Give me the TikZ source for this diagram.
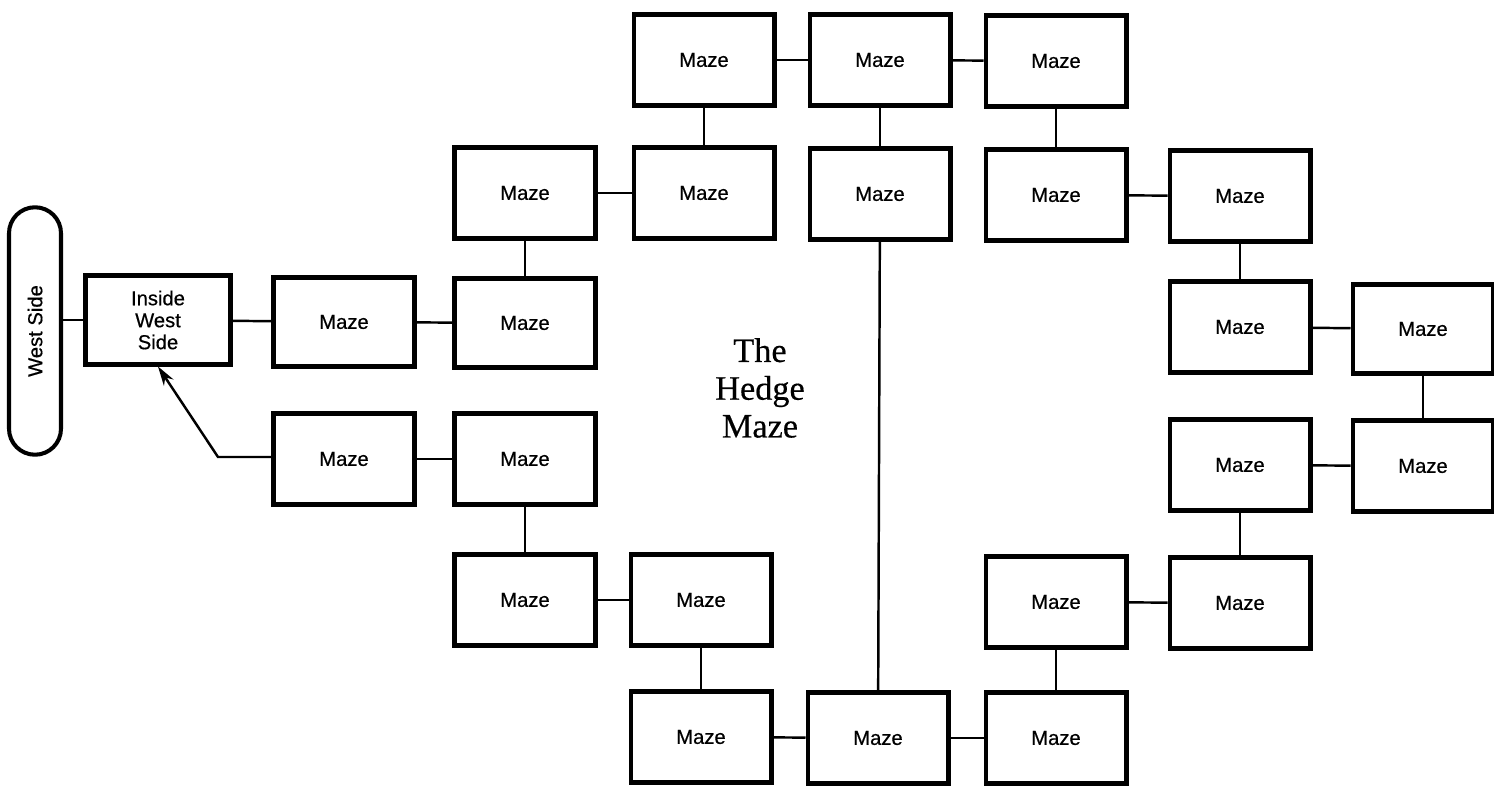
\documentclass[tikz,border=0pt]{standalone}
\usepackage{fontspec}
\setsansfont{Liberation Sans}
\newfontfamily\roomfont{Liberation Sans}[FakeBold=0.5]
\newfontfamily\titlefont{Liberation Serif}[FakeBold=0.4]
\usepackage{tikz}
\usetikzlibrary{positioning,arrows.meta,calc}

\begin{document}
\begin{tikzpicture}[
  x=0.02cm, y=-0.02cm,
  room/.style={rectangle, draw=black, fill=white, line width=2.3pt,
    minimum width=2.82cm, minimum height=1.82cm, align=center,
    font=\roomfont\fontsize{11.5}{12.5}\selectfont},
  exit/.style={rectangle, rounded corners=0.52cm, draw=black, line width=2.3pt,
    minimum width=1.04cm, minimum height=4.95cm,
    font=\roomfont\fontsize{11.5}{12.5}\selectfont},
  link/.style={line width=1.4pt, color=black},
  arrow/.style={-{Stealth[length=11pt, width=6.5pt]}, line width=1.4pt},
  title/.style={font=\titlefont\fontsize{19.5}{21.5}\selectfont, align=center}
]
\useasboundingbox (0,0) rectangle (1494,787);

% Row 1: top
\node[room] (t1) at (704,60) {Maze};
\node[room] (t2) at (880,60) {Maze};
\node[room] (t3) at (1056,61) {Maze};

% Row 2
\node[room] (a) at (525,193) {Maze};
\node[room] (b) at (704,193) {Maze};
\node[room] (c) at (880,194) {Maze};
\node[room] (d) at (1056,195) {Maze};
\node[room] (e) at (1240,196) {Maze};

% Row 3: entrance
\node[exit] (west) at (35,331) {\rotatebox{90}{West Side}};
\node[room, minimum width=2.9cm, minimum height=1.78cm] (inside) at (158,320) {Inside\\West\\Side};
\node[room, minimum height=1.78cm] (f) at (344,322) {Maze};
\node[room, minimum height=1.78cm] (g) at (525,323) {Maze};
\node[room] (h) at (1240,327) {Maze};
\node[room, minimum height=1.78cm] (i) at (1423,329) {Maze};

% Centre label
\node[title] (hedge) at (760,388) {The\\Hedge\\Maze};

% Row 4
\node[room] (j) at (344,459) {Maze};
\node[room] (k) at (525,459) {Maze};
\node[room] (l) at (1240,465) {Maze};
\node[room] (m) at (1423,466) {Maze};

% Row 5
\node[room] (n) at (525,600) {Maze};
\node[room] (o) at (701,600) {Maze};
\node[room] (p) at (1056,602) {Maze};
\node[room] (q) at (1240,603) {Maze};

% Row 6: bottom
\node[room] (r) at (701,737) {Maze};
\node[room] (s) at (878,738) {Maze};
\node[room] (t) at (1056,738) {Maze};

% Paths
\draw[link] (inside.west) -- (inside.west -| west.east);
\draw[link] (inside) -- (f);
\draw[link] (f) -- (g);
\draw[link] (g) -- (a);
\draw[link] (a) -- (b);
\draw[link] (b) -- (t1);
\draw[link] (t1) -- (t2);
\draw[link] (t2) -- (c);
\draw[link] (t2) -- (t3);
\draw[link] (t3) -- (d);
\draw[link] (d) -- (e);
\draw[link] (e) -- (h);
\draw[link] (h) -- (i);
\draw[link] (i) -- (m);
\draw[link] (m) -- (l);
\draw[link] (l) -- (q);
\draw[link] (q) -- (p);
\draw[link] (p) -- (t);
\draw[link] (t) -- (s);
\draw[link] (s) -- (c);
\draw[link] (s) -- (r);
\draw[link] (r) -- (o);
\draw[link] (o) -- (n);
\draw[link] (n) -- (k);
\draw[link] (k) -- (j);

% Way back
\coordinate (bend) at (218,457);
\draw[arrow] (j.west |- bend) -- (bend) -- (inside.south);

\end{tikzpicture}
\end{document}
